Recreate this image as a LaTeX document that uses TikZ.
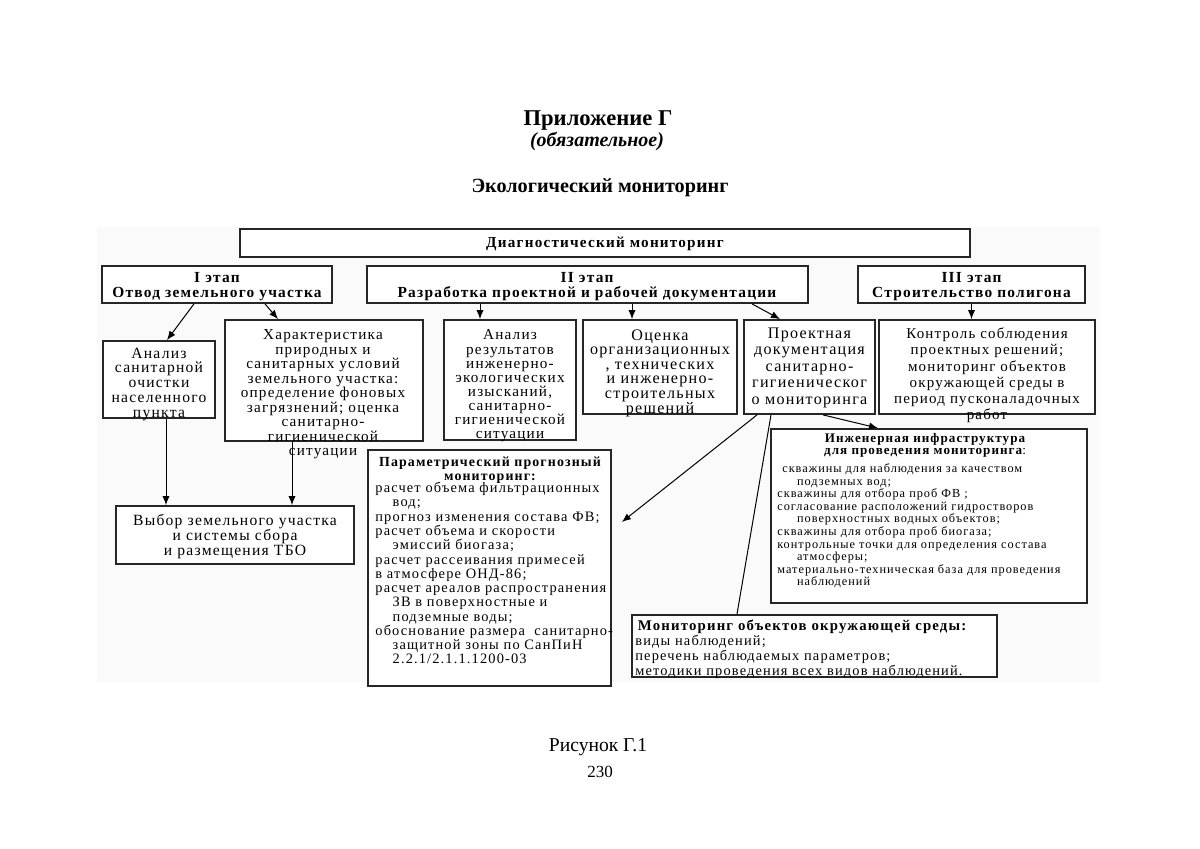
\documentclass[tikz,border=0pt]{standalone}
\usepackage{fontspec}
\setmainfont{Liberation Serif}
\newfontfamily\bxf[LetterSpace=8]{Liberation Serif}
\newcommand\bxs[2]{\bxf\fontsize{#1}{#2}\selectfont\lineskiplimit=-20pt\lineskip=0pt\relax}
\usetikzlibrary{fit,calc,arrows.meta}
\begin{document}
\begin{tikzpicture}[x=0.5pt,y=-0.5pt,
 box/.style={draw=black!85, line width=0.9pt, inner sep=0pt, fill=white},
 txt/.style={inner sep=0pt, align=center, anchor=north},
 ltxt/.style={inner sep=0pt, align=left, anchor=north west},
 arr/.style={line width=0.5pt, -{Latex[length=4.5pt,width=3.6pt]}},
 ln/.style={line width=0.5pt}]
\useasboundingbox (0,0) rectangle (1200,849);
\fill[gray!4] (97,227) rectangle (1100,682);

% titles
\node[font=\fontsize{11.3}{13}\selectfont\bfseries] (t1) at (598,120.5) {Приложение Г};
\node[font=\fontsize{10}{12}\selectfont\bfseries\itshape] (t2) at (597,141.5) {(обязательное)};
\node[font=\fontsize{10.1}{12}\selectfont\bfseries] (t3) at (600,188) {Экологический мониторинг};
\node[font=\fontsize{9.8}{12}\selectfont] (fig) at (598,747) {Рисунок Г.1};
\node[font=\fontsize{8.5}{10}\selectfont] (pg) at (600,772) {230};

% top level
\node[box, fit={(240,229)(970,257)}] (diag) {};
\node[box, fit={(102,266)(332,303)}] (e1) {};
\node[box, fit={(367,266)(808,303)}] (e2) {};
\node[box, fit={(858,266)(1085,303)}] (e3) {};
\node[txt, font=\bxs{7.6}{8}\bfseries] (diagt) at (605,236.5) {Диагностический мониторинг};
\node[txt, font=\bxs{7.7}{7.5}\bfseries] (e1t) at (217,272.5) {I этап\\Отвод земельного участка};
\node[txt, font=\bxs{7.7}{7.5}\bfseries] (e2t) at (587,272.5) {II этап\\Разработка проектной и рабочей документации};
\node[txt, font=\bxs{7.7}{7.5}\bfseries] (e3t) at (971.5,272.5) {III этап\\Строительство полигона};

% second level boxes
\node[box, fit={(103,341)(215,418)}] (a1) {};
\node[box, fit={(225,320)(423,441)}] (ch) {};
\node[box, fit={(444,320)(576,440)}] (ar) {};
\node[box, fit={(583,320)(737,414)}] (oc) {};
\node[box, fit={(744,320)(875,414)}] (pr) {};
\node[box, fit={(879,320)(1095,414)}] (kt) {};
\node[box, fit={(116,506)(354,564)}] (vy) {};
\node[box, fit={(368,450)(611,686)}] (par) {};
\node[box, fit={(771,429)(1087,603)}] (inj) {};
\node[box, fit={(632,615)(997,677)}] (mon) {};

% texts
\node[txt, font=\bxs{7.8}{7.4}] (a1t) at (159,347.5) {Анализ\\санитарной\\очистки\\населенного\\пункта};
\node[txt, font=\bxs{7.6}{7.25}] (cht) at (323,329.5) {Характеристика\\природных и\\санитарных условий\\земельного участка:\\определение фоновых\\загрязнений; оценка\\санитарно-\\гигиенической\\ситуации};
\node[txt, font=\bxs{7.6}{7.05}] (art) at (510,329.5) {Анализ\\результатов\\инженерно-\\экологических\\изысканий,\\санитарно-\\гигиенической\\ситуации};
\node[txt, font=\bxs{8.05}{7.3}] (oct) at (660,329) {Оценка\\организационных\\, технических\\и инженерно-\\строительных\\решений};
\node[txt, font=\bxs{8.05}{8.2}] (prt) at (809.5,327.5) {Проектная\\документация\\санитарно-\\гигиеническог\\о мониторинга};
\node[txt, font=\bxs{7.5}{8.1}] (ktt) at (987,327.5) {Контроль соблюдения\\проектных решений;\\мониторинг объектов\\окружающей среды в\\период пусконаладочных\\работ};
\node[txt, font=\bxs{7.8}{7.5}] (vyt) at (235,513.5) {Выбор земельного участка\\и системы сбора\\и размещения ТБО};

\node[txt, font=\bxs{6.95}{6.6}\bfseries] (parh) at (490,457) {Параметрический прогнозный\\мониторинг:};
\node[ltxt, font=\bxs{7.2}{7.13}] (parl) at (375,482) {расчет объема фильтрационных\\
\hspace*{1.2em}вод;\\
прогноз изменения состава ФВ;\\
расчет объема и скорости\\
\hspace*{1.2em}эмиссий биогаза;\\
расчет рассеивания примесей\\
в атмосфере ОНД-86;\\
расчет ареалов распространения\\
\hspace*{1.2em}ЗВ в поверхностные и\\
\hspace*{1.2em}подземные воды;\\
обоснование размера \ санитарно-\\
\hspace*{1.2em}защитной зоны по СанПиН\\
\hspace*{1.2em}2.2.1/2.1.1.1200-03};

\node[txt, font=\bxs{6.55}{6}\bfseries] (injh) at (925,433.5) {Инженерная инфраструктура\\для проведения мониторинга{\mdseries :}};
\node[ltxt, font=\bxs{6.15}{6.28}] (injl) at (777,463.5) {\hspace*{0.4em}скважины для наблюдения за качеством\\
\hspace*{1.6em}подземных вод;\\
скважины для отбора проб ФВ ;\\
согласование расположений гидростворов\\
\hspace*{1.6em}поверхностных водных объектов;\\
скважины для отбора проб биогаза;\\
контрольные точки для определения состава\\
\hspace*{1.6em}атмосферы;\\
материально-техническая база для проведения\\
\hspace*{1.6em}наблюдений};

\node[ltxt, font=\bxs{7.2}{7.5}] (mont) at (635,619.5) {{\fontsize{7.4}{7.5}\selectfont\bfseries\,Мониторинг объектов окружающей среды:}\\
виды наблюдений;\\
перечень наблюдаемых параметров;\\
методики проведения всех видов наблюдений.};

% connectors
\draw[arr] ($(e1.south)+(-23,0)$) -- ($(a1.north)+(8,0)$);
\draw[arr] ($(e1.south)+(48,0)$) -- ($(ch.north)+(-46,0)$);
\coordinate (p3) at ($(ar.north)+(-30,0)$);
\draw[arr] (e2.south -| p3) -- (p3);
\coordinate (p4) at ($(oc.north)+(-28,0)$);
\draw[arr] (e2.south -| p4) -- (p4);
\draw[arr] ($(e2.south)+(164.5,0)$) -- ($(pr.north)+(-29.5,0)$);
\draw[arr] (e3.south) -- (e3.south |- kt.north);
\coordinate (p7) at ($(a1.south)+(7,0)$);
\draw[arr] (p7) -- (vy.north -| p7);
\coordinate (p8) at ($(ch.south)+(-32,0)$);
\draw[arr] (p8) -- (vy.north -| p8);
\draw[arr] ($(pr.south)+(-52.5,0)$) -- ($(par.east)+(10,-46)$);
\draw[ln] ($(pr.south)+(-38.5,0)$) -- ($(mon.north)+(-77.5,0)$);
\draw[arr] ($(pr.south)+(13.5,0)$) -- ($(inj.north)+(-51,0)$);
\end{tikzpicture}
\end{document}
